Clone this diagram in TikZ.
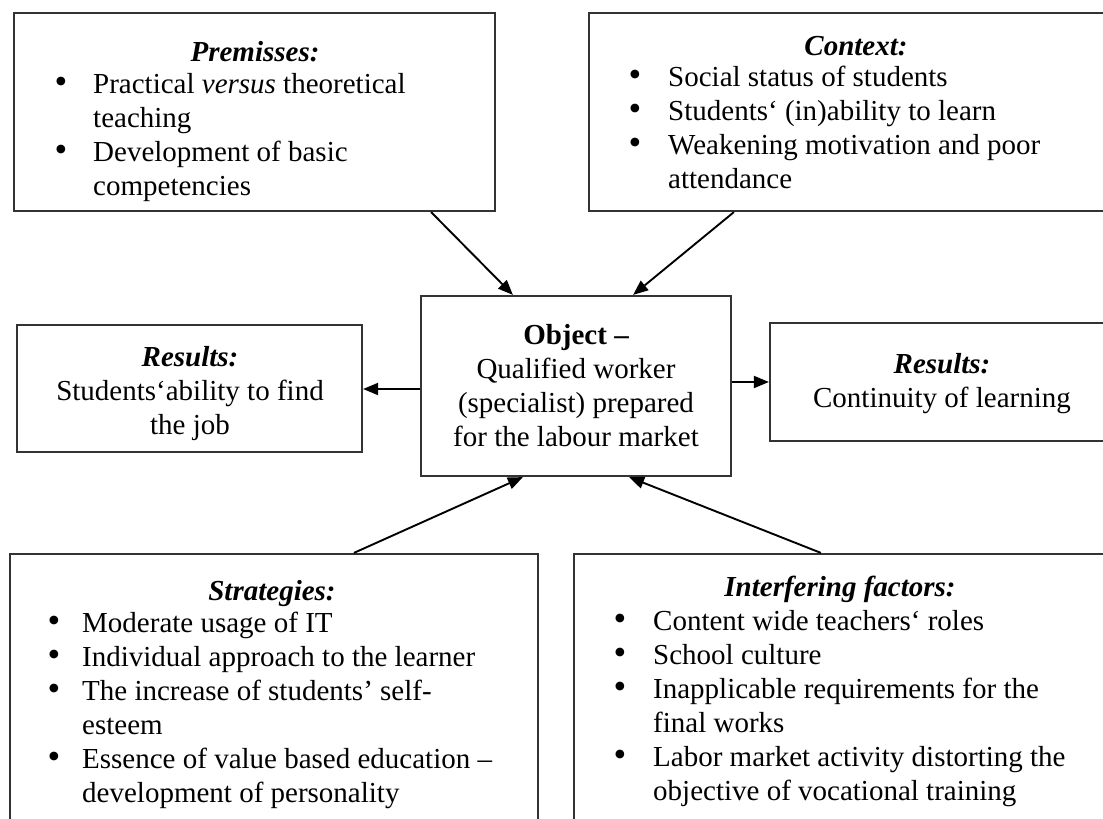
\documentclass[tikz,border=0pt]{standalone}
\usepackage{fontspec}
\setmainfont{Liberation Serif}
\usetikzlibrary{arrows.meta}

% bullet hung to the left of the item text; the gap is set per list
\newlength\bulgap
\setlength\bulgap{28pt}
\newcommand\bi{\leavevmode\llap{\scalebox{1.25}{\textbullet}\hspace{\bulgap}}}

\begin{document}
\begin{tikzpicture}[x=1pt,y=-1pt,
  box/.style={draw=black!80, line width=2.2pt, inner sep=0pt, fill=white},
  txt/.style={inner sep=0pt, font=\fontsize{29}{34}\selectfont},
  ttl/.style={inner sep=0pt, font=\fontsize{29}{34}\selectfont\bfseries\itshape, anchor=base},
  lst/.style={txt, anchor=base west},
  ctr/.style={txt, anchor=base},
  arr/.style={line width=1.9pt, -{Triangle[length=15pt,width=12pt]}}]

\path[use as bounding box, fill=white] (0,0) rectangle (1103,819);
\clip (0,0) rectangle (1103,819);

% frames
\node[box, minimum width=481pt, minimum height=198pt] (prem)  at (254.5,112) {};
\node[box, minimum width=536pt, minimum height=198pt] (ctx)   at (857,112) {};
\node[box, minimum width=310pt, minimum height=180pt] (obj)   at (576,386) {};
\node[box, minimum width=345pt, minimum height=127pt] (lres)  at (189.5,388.5) {};
\node[box, minimum width=350pt, minimum height=118pt] (rres)  at (945,382) {};
\node[box, minimum width=528pt, minimum height=296pt] (strat) at (274,702) {};
\node[box, minimum width=536pt, minimum height=296pt] (intf)  at (842,702) {};

% premisses
\node[ttl] (premT) at (255,61) {Premisses:};
\node[lst] (premL) at (93,93) {\parbox[t]{400pt}{\setlength\bulgap{26pt}%
  \bi Practical \textit{versus} theoretical\\teaching\\
  \bi Development of basic\\competencies}};

% context
\node[ttl] (ctxT) at (856,55) {Context:};
\node[lst] (ctxL) at (668,86) {\parbox[t]{430pt}{\setlength\bulgap{27pt}%
  \bi Social status of students\\
  \bi Students‘ (in)ability to learn\\
  \bi Weakening motivation and poor\\attendance}};

% object
\node[ctr] (objT) at (576,344) {\parbox[t]{300pt}{\centering\textbf{Object –}\\Qualified worker\\(specialist) prepared\\for the labour market}};

% results
\node[ttl] (lresT) at (190,366) {Results:};
\node[ctr] (lresL) at (190,400) {\parbox[t]{340pt}{\centering Students‘ability to find\\the job}};
\node[ttl] (rresT) at (942,373) {Results:};
\node[ctr] (rresL) at (942,407) {Continuity of learning};

% strategies
\node[ttl] (stratT) at (272,600) {Strategies:};
\node[lst] (stratL) at (82,632) {\parbox[t]{450pt}{\setlength\bulgap{22pt}%
  \bi Moderate usage of IT\\
  \bi Individual approach to the learner\\
  \bi The increase of students’ self-\\esteem\\
  \bi Essence of value based education –\\development of personality}};

% interfering factors
\node[ttl] (intfT) at (840,596) {Interfering factors:};
\node[lst] (intfL) at (653,630) {\parbox[t]{450pt}{\setlength\bulgap{27pt}%
  \bi Content wide teachers‘ roles\\
  \bi School culture\\
  \bi Inapplicable requirements for the\\final works\\
  \bi Labor market activity distorting the\\objective of vocational training}};

% connectors
\draw[arr] ([xshift=-65pt]prem.south east) -- ([xshift=93pt]obj.north west);
\draw[arr] ([xshift=146pt]ctx.south west) -- ([xshift=-99pt]obj.north east);
\draw[arr] ([yshift=-3pt]obj.west) -- ([yshift=-3pt]obj.west -| lres.east);
\draw[arr] (rres.west -| obj.east) -- (rres.west);
\draw[arr] ([xshift=345pt]strat.north west) -- ([xshift=103pt]obj.south west);
\draw[arr] ([xshift=248pt]intf.north west) -- ([xshift=-103pt]obj.south east);
\end{tikzpicture}
\end{document}
